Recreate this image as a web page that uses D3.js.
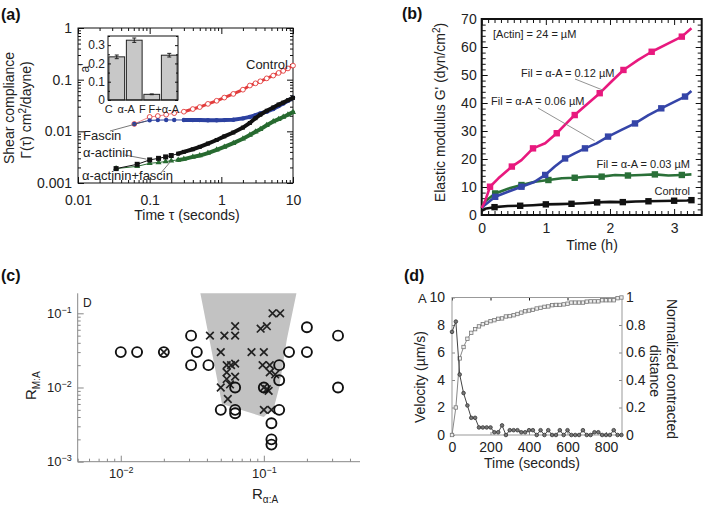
<!DOCTYPE html>
<html><head><meta charset="utf-8">
<script src="https://cdn.jsdelivr.net/npm/d3@7/dist/d3.min.js"></script>
<style>
html,body{margin:0;padding:0;background:#fff;}
svg text{font-family:"Liberation Sans",Arial,Helvetica,sans-serif;fill:#222;}
</style></head>
<body><svg id="chart" width="709" height="509"></svg>
<script>
// ================= DATA =================
// (a) shear compliance vs time (log-log)
const aControlT=[0.061,0.1,0.13,0.17,0.22,0.3,0.4,0.5,0.65,0.86,1.1,1.47,2.0,2.5,3.0,3.5,4.3,5.3,6.3,7.3,8.5,10];
const aControlG=[0.0139,0.019,0.0198,0.021,0.0225,0.024,0.027,0.0295,0.034,0.039,0.045,0.053,0.064,0.077,0.085,0.093,0.106,0.12,0.135,0.148,0.165,0.187];
const aFascinT=[0.061,0.1,0.13,0.17,0.22,0.3,0.4,0.5,0.65,0.86,1.1,1.47,2.0,2.5,3.0,3.5,4.3,5.3,6.3,7.3,8.5,10];
const aFascinG=[0.0139,0.0163,0.0165,0.0166,0.0166,0.0166,0.0165,0.0165,0.0164,0.0164,0.0165,0.0168,0.0178,0.019,0.0205,0.0222,0.024,0.027,0.031,0.0345,0.039,0.0445];
const aActininT=[0.034,0.067,0.1,0.133,0.167,0.2,0.25,0.3,0.4,0.5,0.65,0.86,1.1,1.47,2.0,2.5,3.0,3.5,4.3,5.3,6.3,7.3,8.5,10];
const aActininG=[0.0019,0.0023,0.0028,0.003,0.0032,0.0034,0.0037,0.004,0.0045,0.005,0.0058,0.0068,0.008,0.0095,0.0118,0.0145,0.018,0.021,0.025,0.029,0.033,0.036,0.040,0.0445];
const aBothT=[0.034,0.067,0.1,0.133,0.167,0.2,0.25,0.3,0.4,0.5,0.65,0.86,1.1,1.47,2.0,2.5,3.0,3.5,4.3,5.3,6.3,7.3,8.5,10];
const aBothG=[0.0019,0.0021,0.0024,0.0025,0.0026,0.0027,0.0028,0.0029,0.0032,0.0034,0.0038,0.0044,0.005,0.0059,0.0072,0.0085,0.0098,0.011,0.0131,0.0155,0.0172,0.019,0.021,0.0235];
const aXTicks=[0.01,0.1,1,10], aXTickLabels=['0.01','0.1','1','10'];
const aYTicks=[0.001,0.01,0.1,1], aYTickLabels=['0.001','0.01','0.1','1'];
// (a) inset
const insetCats=['C','α-A','F','F+α-A'];
const insetVals=[0.236,0.327,0.031,0.245];
const insetErr=[0.01,0.012,0.002,0.01];
const insetTicks=[0,0.1,0.2,0.3], insetTickLabels=['0','0.1','0.2','0.3'];

// (b) elastic modulus vs time
const bPinkT=[0,0.05,0.13,0.26,0.47,0.62,0.8,0.99,1.17,1.32,1.45,1.66,1.84,2.02,2.21,2.44,2.65,2.91,3.12,3.27];
const bPinkG=[2.5,4.75,10.1,13.1,17.3,19.6,23.8,25.6,29.2,32.7,35.7,39.9,43.5,47.6,51.8,55.4,58.3,61.3,63.7,66.7];
const bBlueT=[0,0.05,0.21,0.41,0.62,0.83,0.99,1.14,1.3,1.45,1.61,1.79,1.97,2.18,2.39,2.6,2.8,3.01,3.17,3.27];
const bBlueG=[2.5,3.6,6.5,8.3,10.1,11.9,14.3,17.3,20.2,22,23.8,25.6,28,30.4,32.7,35.7,38.1,40.5,42.3,44.3];
const bGreenT=[0,0.05,0.21,0.41,0.62,0.83,1.04,1.25,1.45,1.66,1.87,2.08,2.28,2.49,2.7,2.91,3.12,3.27];
const bGreenG=[2.5,4.8,7.7,9.4,10.7,11.9,12.5,13.1,13.3,13.7,13.7,14.3,14.1,14.3,14.5,14.1,14.3,14.5];
const bCtrlT=[0,0.05,0.2,0.41,0.6,0.8,1.0,1.2,1.4,1.6,1.8,2.0,2.2,2.4,2.6,2.8,3.0,3.2,3.27];
const bCtrlG=[1.5,2.2,2.8,3.2,3.3,3.5,3.8,3.9,4.0,4.2,4.5,4.7,4.6,4.8,4.9,5.0,5.1,5.2,5.3];
const bXTicks=[0,1,2,3], bYTicks=[0,10,20,30,40,50,60,70];

// (c) phase diagram
const cCircX=[0.01,0.013,0.02,0.031,0.034,0.031,0.041,0.05,0.063,0.063,0.063,0.1,0.113,0.113,0.113,0.128,0.128,0.128,0.15,0.2,0.2,0.33,0.33];
const cCircY=[0.03,0.03,0.03,0.05,0.03,0.02,0.02,0.005,0.01,0.005,0.0045,0.01,0.0033,0.002,0.0017,0.02,0.0125,0.005,0.03,0.065,0.03,0.05,0.01];
const cCrossX=[0.02,0.042,0.053,0.063,0.063,0.05,0.082,0.1,0.055,0.059,0.063,0.055,0.055,0.063,0.05,0.058,0.056,0.095,0.105,0.115,0.13,0.098,0.11,0.11,0.12,0.1,0.105,0.108,0.1,0.113];
const cCrossY=[0.03,0.05,0.05,0.067,0.05,0.03,0.03,0.03,0.02,0.02,0.021,0.016,0.013,0.014,0.01,0.011,0.007,0.062,0.067,0.1,0.1,0.02,0.02,0.016,0.015,0.01,0.0095,0.009,0.005,0.005];
const cRegionX=[0.036,0.169,0.145,0.128,0.118,0.1,0.051];
const cRegionY=[0.186,0.186,0.045,0.01,0.0055,0.004,0.006];
const cXTicks=[0.01,0.1], cXTickExp=['−2','−1'];
const cYTicks=[0.001,0.01,0.1], cYTickExp=['−3','−2','−1'];

// (d) velocity / contracted distance
const dTime=[0,20,40,60,80,100,120,140,160,180,200,220,240,260,280,300,320,340,360,380,400,420,440,460,480,500,520,540,560,580,600,620,640,660,680,700,720,740,760,780,800,820,840,860,880];
const dVel=[7.5,8.25,4.4,3.05,2.15,1.25,1.25,0.55,0.55,0.55,0.55,0.2,0.2,0.7,0,0.35,0.35,0.35,0.2,0.2,0.35,0.35,0,0.35,0,0.35,0,0,0.35,0,0.35,0,0,0,0.35,0,0,0.2,0.2,0,0,0,0.35,0,0];
const dDist=[0,0.2,0.557,0.64,0.70,0.743,0.77,0.79,0.806,0.816,0.828,0.835,0.845,0.848,0.862,0.865,0.871,0.88,0.89,0.9,0.905,0.91,0.92,0.925,0.932,0.935,0.944,0.946,0.946,0.95,0.955,0.963,0.963,0.963,0.963,0.97,0.972,0.972,0.972,0.98,0.98,0.98,0.98,0.995,1.0];
const dXTicks=[0,200,400,600,800], dYTicks=[0,2,4,6,8,10], dY2Ticks=[0,0.2,0.4,0.6,0.8,1], dY2Labels=['0','0.2','0.4','0.6','0.8','1'];

// ================= HELPERS =================
const FONT='"Liberation Sans", Arial, Helvetica, sans-serif';
const svg=d3.select('#chart');
function logMinor(scale){
  const [lo,hi]=scale.domain(); const out=[];
  for(let k=Math.floor(Math.log10(lo));k<=Math.ceil(Math.log10(hi));k++){
    for(let m=2;m<10;m++){const v=m*Math.pow(10,k); if(v>=lo*0.999&&v<=hi*1.001) out.push(v);} }
  return out;
}
function styleAxis(sel,color,fs){
  sel.attr('font-family',FONT).attr('font-size',fs||14);
  sel.select('.domain').remove();
  sel.selectAll('.tick line').attr('stroke',color||'#111');
  return sel;
}
function axisPair(g,axisFn,scale,tr,maj,min,majLen,minLen,fmt,pad,color,fs){
  const s1=g.append('g').attr('transform',tr)
    .call(axisFn(scale).tickValues(maj).tickSize(majLen).tickPadding(pad||4).tickFormat(fmt||(()=>'')));
  styleAxis(s1,color,fs);
  if(min&&min.length){
    const s2=g.append('g').attr('transform',tr).call(axisFn(scale).tickValues(min).tickSize(minLen).tickFormat(()=>''));
    styleAxis(s2,color,fs);
  }
  return s1;
}
function panelLabel(txt,x,y){
  svg.append('text').attr('x',x).attr('y',y).attr('font-size',16).attr('font-weight','bold').style('fill','#111').text(txt);
}
function zip(a,b){return a.map((v,i)=>[v,b[i]]);}

// ================= PANEL (a) =================
{
  const ax=d3.scaleLog().domain([0.01,10]).range([78,293]);
  const ay=d3.scaleLog().domain([0.001,1]).range([183,28]);
  const g=svg.append('g');
  const [x0,x1]=ax.range(), [y0,y1]=ay.range();
  const xMin=logMinor(ax), yMin=logMinor(ay);
  axisPair(g,d3.axisLeft,ay,`translate(${x0},0)`,aYTicks,yMin,-6,-3,v=>aYTickLabels[aYTicks.indexOf(v)],6);
  axisPair(g,d3.axisRight,ay,`translate(${x1},0)`,aYTicks,yMin,-6,-3);
  axisPair(g,d3.axisBottom,ax,`translate(0,${y0})`,aXTicks,xMin,-6,-3,v=>aXTickLabels[aXTicks.indexOf(v)],12);
  axisPair(g,d3.axisTop,ax,`translate(0,${y1})`,aXTicks,xMin,-6,-3);
  g.append('rect').attr('x',x0).attr('y',y1).attr('width',x1-x0).attr('height',y0-y1).attr('fill','none').attr('stroke','#111').attr('stroke-width',1);

  const line=d3.line().x(d=>ax(d[0])).y(d=>ay(d[1]));
  const series=[
    {t:aControlT,v:aControlG,c:'#e23c3c',m:'circleOpen'},
    {t:aFascinT,v:aFascinG,c:'#2c41a0',m:'dot'},
    {t:aBothT,v:aBothG,c:'#276a30',m:'tri'},
    {t:aActininT,v:aActininG,c:'#111',m:'sq'}
  ];
  series.forEach(s=>{
    const pts=zip(s.t,s.v);
    g.append('path').attr('d',line(pts)).attr('fill','none').attr('stroke',s.m==='circleOpen'?'#e88':s.c).attr('stroke-width',1);
    const late=pts.filter(p=>p[0]>=0.25);
    g.append('path').attr('d',line(late)).attr('fill','none').attr('stroke',s.c).attr('stroke-width',s.m==='circleOpen'?3:4).attr('stroke-linecap','round');
    pts.forEach(p=>{
      const X=ax(p[0]),Y=ay(p[1]);
      if(s.m==='circleOpen') g.append('circle').attr('cx',X).attr('cy',Y).attr('r',2.4).attr('fill','#fff').attr('stroke',s.c).attr('stroke-width',0.9);
      else if(s.m==='dot') g.append('circle').attr('cx',X).attr('cy',Y).attr('r',2.2).attr('fill',s.c);
      else if(s.m==='tri') g.append('path').attr('transform',`translate(${X},${Y})`).attr('d',d3.symbol().type(d3.symbolTriangle).size(16)()).attr('fill',s.c);
      else {const sz=p[0]<=0.21?5:4; g.append('rect').attr('x',X-sz/2).attr('y',Y-sz/2).attr('width',sz).attr('height',sz).attr('fill',s.c);}
    });
  });
  // annotations
  const ann=(txt,tx,ty,lx,ly,px,py)=>{
    g.append('line').attr('x1',lx).attr('y1',ly).attr('x2',ax(px)).attr('y2',ay(py)).attr('stroke','#555').attr('stroke-width',0.8);
    g.append('text').attr('x',tx).attr('y',ty).attr('font-size',13).text(txt);
  };
  g.append('text').attr('x',246).attr('y',69).attr('font-size',13).text('Control');
  ann('Fascin',83,140,110,131,0.09,0.0158);
  ann('α-actinin',83,157,125,155,0.09,0.0029);
  ann('α-actinin+fascin',82,180,160,174,0.2,0.0027);

  // inset
  const ix=d3.scaleBand().domain(insetCats).range([108,178]).paddingInner(0.1).paddingOuter(0.05);
  const iy=d3.scaleLinear().domain([0,0.35]).range([100,36]);
  const labelShift=[-8,-8,-9.5,-5.5];
  const ig=svg.append('g');
  ig.append('rect').attr('x',ix.range()[0]).attr('y',iy.range()[1]).attr('width',ix.range()[1]-ix.range()[0]).attr('height',iy.range()[0]-iy.range()[1]).attr('fill','#fff');
  insetCats.forEach((c,i)=>{
    ig.append('rect').attr('x',ix(c)).attr('y',iy(insetVals[i])).attr('width',ix.bandwidth()).attr('height',iy(0)-iy(insetVals[i]))
      .attr('fill','#c8c8c8').attr('stroke','#222').attr('stroke-width',1);
    const cx=ix(c)+ix.bandwidth()/2;
    ig.append('line').attr('x1',cx).attr('x2',cx).attr('y1',iy(insetVals[i]-insetErr[i])).attr('y2',iy(insetVals[i]+insetErr[i])).attr('stroke','#222');
    [insetVals[i]-insetErr[i],insetVals[i]+insetErr[i]].forEach(v=>ig.append('line').attr('x1',cx-2).attr('x2',cx+2).attr('y1',iy(v)).attr('y2',iy(v)).attr('stroke','#222'));
    ig.append('text').attr('x',cx+labelShift[i]).attr('y',113).attr('text-anchor','middle').attr('font-size',11).text(c);
  });
  const iMinor=[0.05,0.15,0.25,0.35];
  axisPair(ig,d3.axisLeft,iy,`translate(${ix.range()[0]},0)`,insetTicks,iMinor,-3,-2,v=>insetTickLabels[insetTicks.indexOf(v)],3,'#111',12);
  axisPair(ig,d3.axisRight,iy,`translate(${ix.range()[1]},0)`,insetTicks,iMinor,-3,-2);
  ig.append('rect').attr('x',ix.range()[0]).attr('y',iy.range()[1]).attr('width',ix.range()[1]-ix.range()[0]).attr('height',iy.range()[0]-iy.range()[1]).attr('fill','none').attr('stroke','#111');
  ig.append('text').attr('transform','translate(89,68) rotate(-90)').attr('text-anchor','middle').attr('font-size',12).text("a'");

  // axis titles
  svg.append('text').attr('x',187).attr('y',220).attr('text-anchor','middle').attr('font-size',14).text('Time τ (seconds)');
  svg.append('text').attr('transform','translate(14,108) rotate(-90)').attr('text-anchor','middle').attr('font-size',14).text('Shear compliance');
  const t2=svg.append('text').attr('transform','translate(30.5,110) rotate(-90)').attr('text-anchor','middle').attr('font-size',14);
  t2.append('tspan').text('Γ(τ) cm');
  t2.append('tspan').attr('dy',-5).attr('font-size',10).text('2');
  t2.append('tspan').attr('dy',5).text('/dayne)');
  panelLabel('(a)',1,20);
}

// ================= PANEL (b) =================
{
  const bx=d3.scaleLinear().domain([0,3.43]).range([481.7,701.7]);
  const by=d3.scaleLinear().domain([0,70]).range([215,19]);
  const g=svg.append('g');
  const [x0,x1]=bx.range(),[y0,y1]=by.range();
  const yMin=d3.range(0,71,2).filter(v=>v%10!==0);
  const xMin=d3.range(0,34).map(v=>v/10).filter(v=>Math.abs(v-Math.round(v))>1e-6);
  axisPair(g,d3.axisLeft,by,`translate(${x0},0)`,bYTicks,yMin,-6,-4,v=>String(v),5);
  axisPair(g,d3.axisRight,by,`translate(${x1},0)`,bYTicks,yMin,-6,-4);
  axisPair(g,d3.axisBottom,bx,`translate(0,${y0})`,bXTicks,xMin,-6,-4,v=>String(v),8.5);
  axisPair(g,d3.axisTop,bx,`translate(0,${y1})`,bXTicks,xMin,-6,-4);
  g.append('rect').attr('x',x0).attr('y',y1).attr('width',x1-x0).attr('height',y0-y1).attr('fill','none').attr('stroke','#111').attr('stroke-width',2);
  const line=d3.line().x(d=>bx(d[0])).y(d=>by(d[1]));
  const ser=[
    {t:bCtrlT,v:bCtrlG,c:'#111'},
    {t:bGreenT,v:bGreenG,c:'#2a7038'},
    {t:bBlueT,v:bBlueG,c:'#3545a8'},
    {t:bPinkT,v:bPinkG,c:'#e8197e'}
  ];
  ser.forEach(s=>{
    const pts=zip(s.t,s.v);
    g.append('path').attr('d',line(pts)).attr('fill','none').attr('stroke',s.c).attr('stroke-width',2.6).attr('stroke-linejoin','round');
    pts.forEach((p,i)=>{ if(i>0&&i%2===0){ g.append('rect').attr('x',bx(p[0])-3.2).attr('y',by(p[1])-3.2).attr('width',6.4).attr('height',6.4).attr('fill',s.c);} });
  });
  const txt=(s,x,y,anchor)=>g.append('text').attr('x',x).attr('y',y).attr('font-size',11).attr('text-anchor',anchor||'start').text(s);
  txt('[Actin] = 24 = µM',493,38);
  txt('Fil = α-A = 0.12 µM',521,77);
  g.append('line').attr('x1',575).attr('y1',79).attr('x2',bx(1.89)).attr('y2',by(44.6)).attr('stroke','#777').attr('stroke-width',0.8);
  txt('Fil = α-A = 0.06 µM',491,105);
  g.append('line').attr('x1',538).attr('y1',108).attr('x2',bx(1.76)).attr('y2',by(26.5)).attr('stroke','#777').attr('stroke-width',0.8);
  txt('Fil = α-A = 0.03 µM',690,168,'end');
  txt('Control',690,195,'end');
  svg.append('text').attr('x',592).attr('y',250).attr('text-anchor','middle').attr('font-size',14).text('Time (h)');
  const yl=svg.append('text').attr('transform','translate(445,112.5) rotate(-90)').attr('text-anchor','middle').attr('font-size',14);
  yl.append('tspan').text("Elastic modulus G' (dyn/cm");
  yl.append('tspan').attr('dy',-5).attr('font-size',10).text('2');
  yl.append('tspan').attr('dy',5).text(')');
  panelLabel('(b)',402,19);
}

// ================= PANEL (c) =================
{
  const cx=d3.scaleLog().domain([0.005,0.47]).range([77.7,360]);
  const cy=d3.scaleLog().domain([0.001,0.186]).range([461.7,293.3]);
  const g=svg.append('g');
  const [x0,x1]=cx.range(),[y0,y1]=cy.range();
  g.append('path').attr('d',d3.line().x(d=>cx(d[0])).y(d=>cy(d[1]))(zip(cRegionX,cRegionY))+'Z').attr('fill','#c2c2c2');
  const ax1=axisPair(g,d3.axisLeft,cy,`translate(${x0},0)`,cYTicks,logMinor(cy),-6,-3,()=>'x',6,'#888',13);
  ax1.selectAll('.tick text').each(function(d){
    const t=d3.select(this); t.text('');
    t.append('tspan').text('10');
    t.append('tspan').attr('dy',-5).attr('font-size',9).text(cYTickExp[cYTicks.indexOf(d)]);
  });
  const ax2=axisPair(g,d3.axisBottom,cx,`translate(0,${y0})`,cXTicks,logMinor(cx),-6,-3,()=>'x',7,'#888',13);
  ax2.selectAll('.tick text').each(function(d){
    const t=d3.select(this); t.text('');
    t.append('tspan').text('10');
    t.append('tspan').attr('dy',-5).attr('font-size',9).text(cXTickExp[cXTicks.indexOf(d)]);
  });
  g.append('line').attr('x1',x0).attr('x2',x0).attr('y1',y1).attr('y2',y0).attr('stroke','#888');
  g.append('line').attr('x1',x0).attr('x2',x1).attr('y1',y0).attr('y2',y0).attr('stroke','#888');
  zip(cCrossX,cCrossY).forEach(p=>{
    g.append('path').attr('transform',`translate(${cx(p[0])},${cy(p[1])})`).attr('d','M-3.8,-3.8L3.8,3.8M-3.8,3.8L3.8,-3.8').attr('stroke','#222').attr('stroke-width',1.7);
  });
  zip(cCircX,cCircY).forEach(p=>{
    g.append('circle').attr('cx',cx(p[0])).attr('cy',cy(p[1])).attr('r',5).attr('fill','none').attr('stroke','#111').attr('stroke-width',1.9);
  });
  g.append('text').attr('x',83).attr('y',307).attr('font-size',12).text('D');
  const yl=svg.append('text').attr('transform','translate(36,400) rotate(-90)').attr('font-size',15);
  yl.append('tspan').text('R');
  yl.append('tspan').attr('dy',4).attr('font-size',10).text('M:A');
  const xl=svg.append('text').attr('x',252).attr('y',499).attr('font-size',15);
  xl.append('tspan').text('R');
  xl.append('tspan').attr('dy',4).attr('font-size',10).text('α:A');
  panelLabel('(c)',1,281);
}

// ================= PANEL (d) =================
{
  const dx=d3.scaleLinear().domain([0,883]).range([452,622]);
  const dy=d3.scaleLinear().domain([0,10]).range([435,297.5]);
  const dy2=d3.scaleLinear().domain([0,1]).range([435,297.5]);
  const g=svg.append('g');
  const [x0,x1]=dx.range(),[y0,y1]=dy.range();
  axisPair(g,d3.axisLeft,dy,`translate(${x0},0)`,dYTicks,[],-3,0,v=>String(v),7,'#888',14);
  axisPair(g,d3.axisRight,dy2,`translate(${x1},0)`,dY2Ticks,[],-3,0,v=>dY2Labels[dY2Ticks.indexOf(v)],4,'#888',14);
  axisPair(g,d3.axisBottom,dx,`translate(0,${y0})`,dXTicks,[],-3,0,v=>String(v),7,'#888',14);
  axisPair(g,d3.axisTop,dx,`translate(0,${y1})`,dXTicks,[],-3,0);
  g.append('rect').attr('x',x0).attr('y',y1).attr('width',x1-x0).attr('height',y0-y1).attr('fill','none').attr('stroke','#999');
  const l1=d3.line().x(d=>dx(d[0])).y(d=>dy(d[1]));
  const l2=d3.line().x(d=>dx(d[0])).y(d=>dy2(d[1]));
  const dist=zip(dTime,dDist), vel=zip(dTime,dVel);
  g.append('path').attr('d',l2(dist)).attr('fill','none').attr('stroke','#888').attr('stroke-width',1);
  dist.forEach(p=>g.append('rect').attr('x',dx(p[0])-1.7).attr('y',dy2(p[1])-1.7).attr('width',3.4).attr('height',3.4).attr('fill','#eee').attr('stroke','#777').attr('stroke-width',0.8));
  g.append('path').attr('d',l1(vel)).attr('fill','none').attr('stroke','#444').attr('stroke-width',1);
  vel.forEach(p=>g.append('circle').attr('cx',dx(p[0])).attr('cy',dy(p[1])).attr('r',1.8).attr('fill','#777').attr('stroke','#333').attr('stroke-width',0.8));
  g.append('text').attr('x',418).attr('y',303).attr('font-size',13).text('A');
  svg.append('text').attr('x',532).attr('y',468).attr('text-anchor','middle').attr('font-size',14).text('Time (seconds)');
  svg.append('text').attr('transform','translate(425,377) rotate(-90)').attr('text-anchor','middle').attr('font-size',14).text('Velocity (µm/s)');
  svg.append('text').attr('transform','translate(667,369) rotate(90)').attr('text-anchor','middle').attr('font-size',14).text('Normalized contracted');
  svg.append('text').attr('transform','translate(650,371) rotate(90)').attr('text-anchor','middle').attr('font-size',14).text('distance');
  panelLabel('(d)',404,281);
}
</script></body></html>
